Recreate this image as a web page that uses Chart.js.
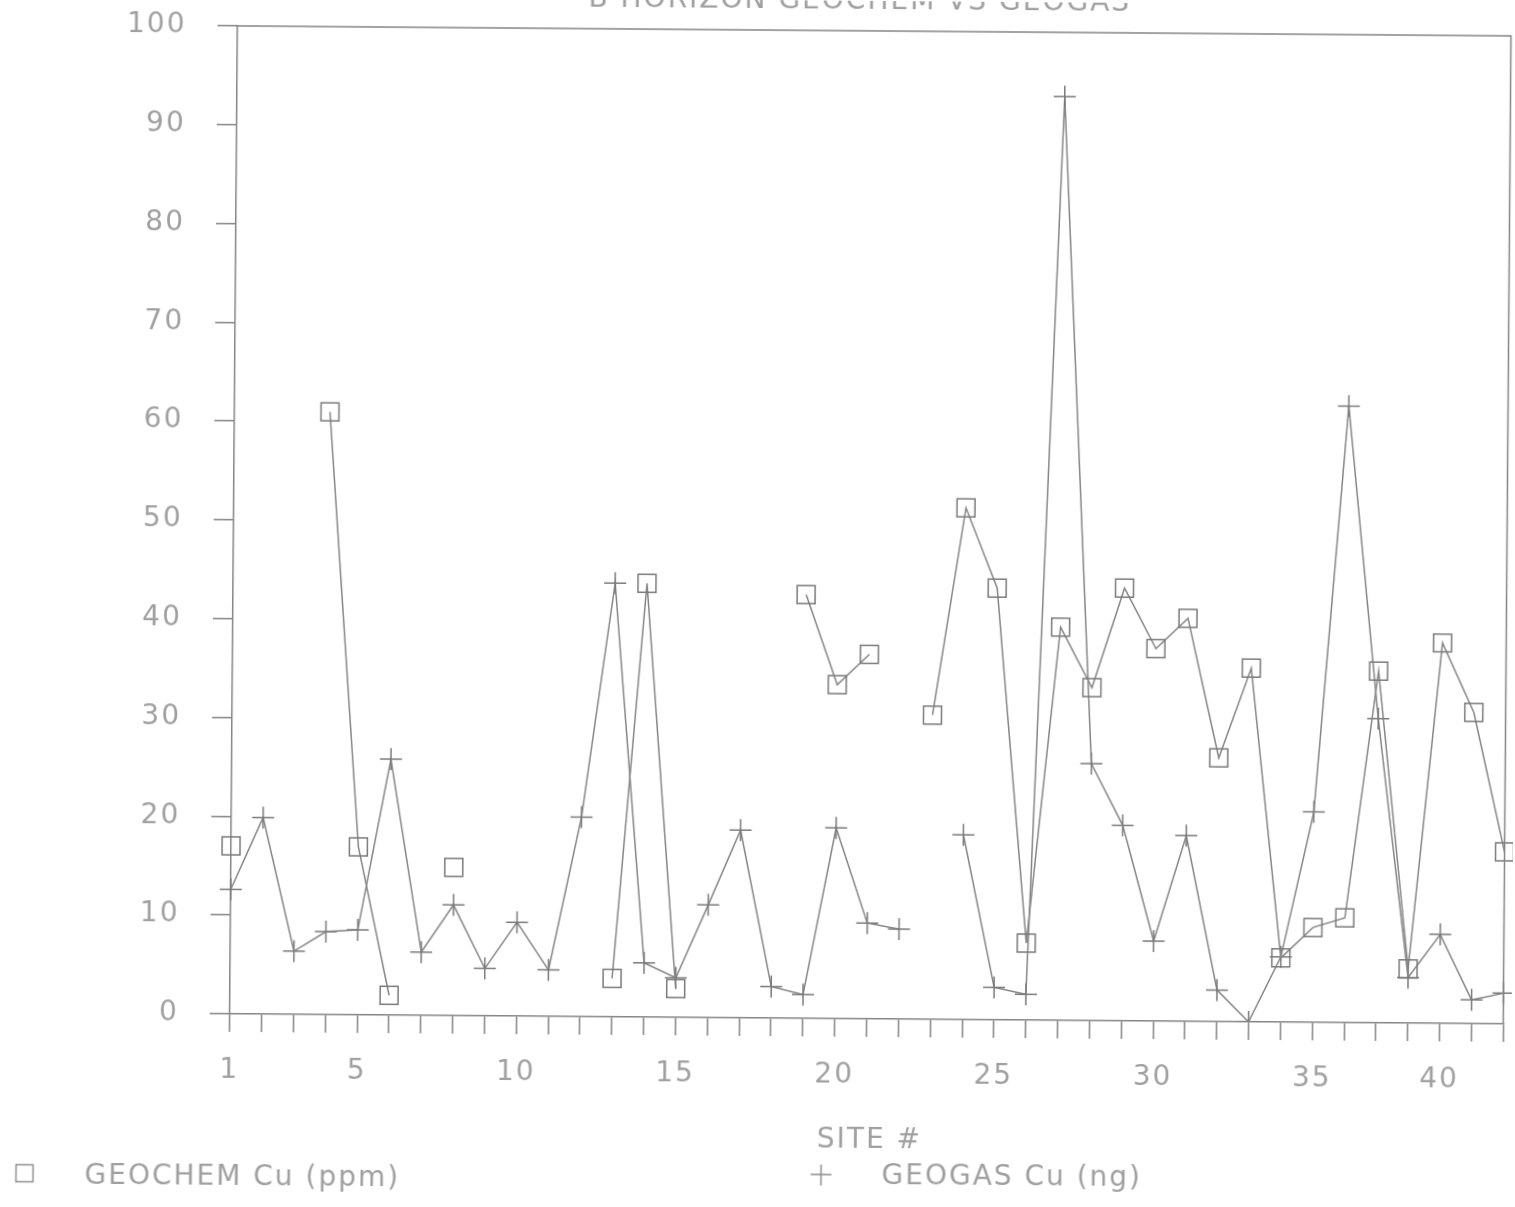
<!DOCTYPE html>
<html>
<head>
<meta charset="utf-8">
<title>B Horizon Geochem vs Geogas</title>
<script src="https://cdn.jsdelivr.net/npm/chart.js@4.4.0/dist/chart.umd.min.js"></script>
<style>
  html, body { margin: 0; padding: 0; background: #fff; overflow: hidden; }
  /* the scanned plot sits slightly skewed on the page */
  #chart { display: block; transform: rotate(0.45deg); transform-origin: 50% 50%; }
</style>
</head>
<body>
<canvas id="chart" width="1515" height="1207"></canvas>
<script>
// site numbers along the x axis (one number is skipped after 35 on the original plot)
var sites = [1, 2, 3, 4, 5, 6, 7, 8, 9, 10, 11, 12, 13, 14, 15, 16, 17, 18, 19, 20,
  21, 22, 23, 24, 25, 26, 27, 28, 29, 30, 31, 32, 33, 34, 35, 37, 38, 39, 40, 41, 42];

// B horizon geochem Cu (ppm), null = no sample
var geochemCu = [17.0, null, null, 61.0, 17.0, 2.0, null, 15.0, null, null,
  null, null, 3.9, 43.9, 2.9, null, null, null, 42.9, 33.8,
  36.9, null, 30.8, 51.8, 43.7, 7.8, 39.8, 33.7, 43.8, 37.7,
  40.8, 26.7, 35.8, 6.5, 9.6, 10.6, 35.6, 5.5, 38.5, 31.5, 17.4];

// geogas Cu (ng)
var geogasCu = [12.6, 19.9, 6.4, 8.4, 8.6, 25.9, 6.4, 11.2, 4.8, 9.5,
  4.7, 20.2, 43.9, 5.5, 4.0, 11.4, 19.0, 3.2, 2.4, 19.3,
  9.7, 9.1, null, 18.7, 3.3, 2.6, 93.5, 26.0, 19.8, 8.1,
  18.8, 3.2, 0, 6.6, 21.3, 62.4, 30.8, 4.6, 9.0, 2.4, 3.1];

var labelledSites = [1, 5, 10, 15, 20, 25, 30, 35, 40];

var ink = '#858585';
var textInk = '#a0a0a0';
var font = 'DejaVu Sans, Liberation Sans, sans-serif';

// plotter lettering is spaced out
var spacing = {
  id: 'spacing',
  beforeDraw: function(chart) { chart.ctx.letterSpacing = '2px'; }
};

// frame top/right, title, axis title and legend
var decorations = {
  id: 'decorations',
  afterDraw: function(chart) {
    var ctx = chart.ctx;
    var a = chart.chartArea;
    ctx.save();
    ctx.strokeStyle = ink;
    ctx.lineWidth = 1.5;
    ctx.beginPath();
    ctx.moveTo(a.left, a.top);
    ctx.lineTo(a.right, a.top);
    ctx.lineTo(a.right, a.bottom);
    ctx.stroke();

    ctx.letterSpacing = '2px';
    ctx.fillStyle = textInk;
    ctx.font = '28px ' + font;
    ctx.textAlign = 'center';
    ctx.textBaseline = 'alphabetic';
    ctx.fillText('B HORIZON GEOCHEM VS GEOGAS', 855, 8);

    ctx.textAlign = 'left';
    ctx.textBaseline = 'middle';
    ctx.fillText('SITE #', 821, 1140);
    ctx.fillText('GEOCHEM Cu (ppm)', 89, 1182);
    ctx.fillText('GEOGAS Cu (ng)', 886, 1176);

    ctx.strokeStyle = '#8f8f8f';
    ctx.strokeRect(20.5, 1170.5, 17, 17);
    ctx.beginPath();
    ctx.moveTo(815, 1174); ctx.lineTo(836, 1174);
    ctx.moveTo(825.5, 1164); ctx.lineTo(825.5, 1185);
    ctx.stroke();
    ctx.restore();
  }
};

var ctx = document.getElementById('chart').getContext('2d');
var chart = new Chart(ctx, {
  type: 'line',
  data: {
    labels: sites,
    datasets: [{
      label: 'GEOCHEM Cu (ppm)',
      data: geochemCu,
      borderColor: ink,
      borderWidth: 1.5,
      pointStyle: 'rect',
      pointRadius: 12.7,
      pointBorderWidth: 1.5,
      pointBorderColor: '#7a7a7a',
      pointBackgroundColor: 'rgba(0,0,0,0)',
      spanGaps: false
    }, {
      label: 'GEOGAS Cu (ng)',
      data: geogasCu,
      borderColor: ink,
      borderWidth: 1.5,
      pointStyle: 'cross',
      pointRadius: 11,
      pointBorderWidth: 1.5,
      pointBorderColor: '#7a7a7a',
      pointBackgroundColor: 'rgba(0,0,0,0)',
      spanGaps: false
    }]
  },
  options: {
    responsive: false,
    animation: false,
    layout: { autoPadding: false, padding: { left: 0, top: 30, right: 8.5, bottom: 0 } },
    plugins: {
      legend: { display: false },
      title: { display: false },
      tooltip: { enabled: false }
    },
    scales: {
      x: {
        type: 'category',
        offset: false,
        afterFit: function(s) {
          s.height = 189;
          s.paddingLeft = 0;
          s.paddingRight = 0;
        },
        grid: { drawOnChartArea: false, drawTicks: true, tickLength: 18, color: ink, lineWidth: 1.5 },
        border: { display: true, color: ink, width: 1.5 },
        ticks: {
          autoSkip: false,
          maxRotation: 0,
          padding: 22,
          color: textInk,
          font: { family: font, size: 28 },
          callback: function(val) {
            var s = this.getLabelForValue(val);
            return labelledSites.indexOf(s) >= 0 ? String(s) : '';
          }
        }
      },
      y: {
        min: 0,
        max: 100,
        afterFit: function(s) {
          s.width = 233;
          s.paddingTop = 0;
          s.paddingBottom = 0;
        },
        grid: { drawOnChartArea: false, drawTicks: true, tickLength: 20, color: ink, lineWidth: 1.5 },
        border: { display: true, color: ink, width: 1.5 },
        ticks: {
          stepSize: 10,
          padding: 31,
          color: textInk,
          font: { family: font, size: 28 }
        }
      }
    }
  },
  plugins: [spacing, decorations]
});
</script>
</body>
</html>
